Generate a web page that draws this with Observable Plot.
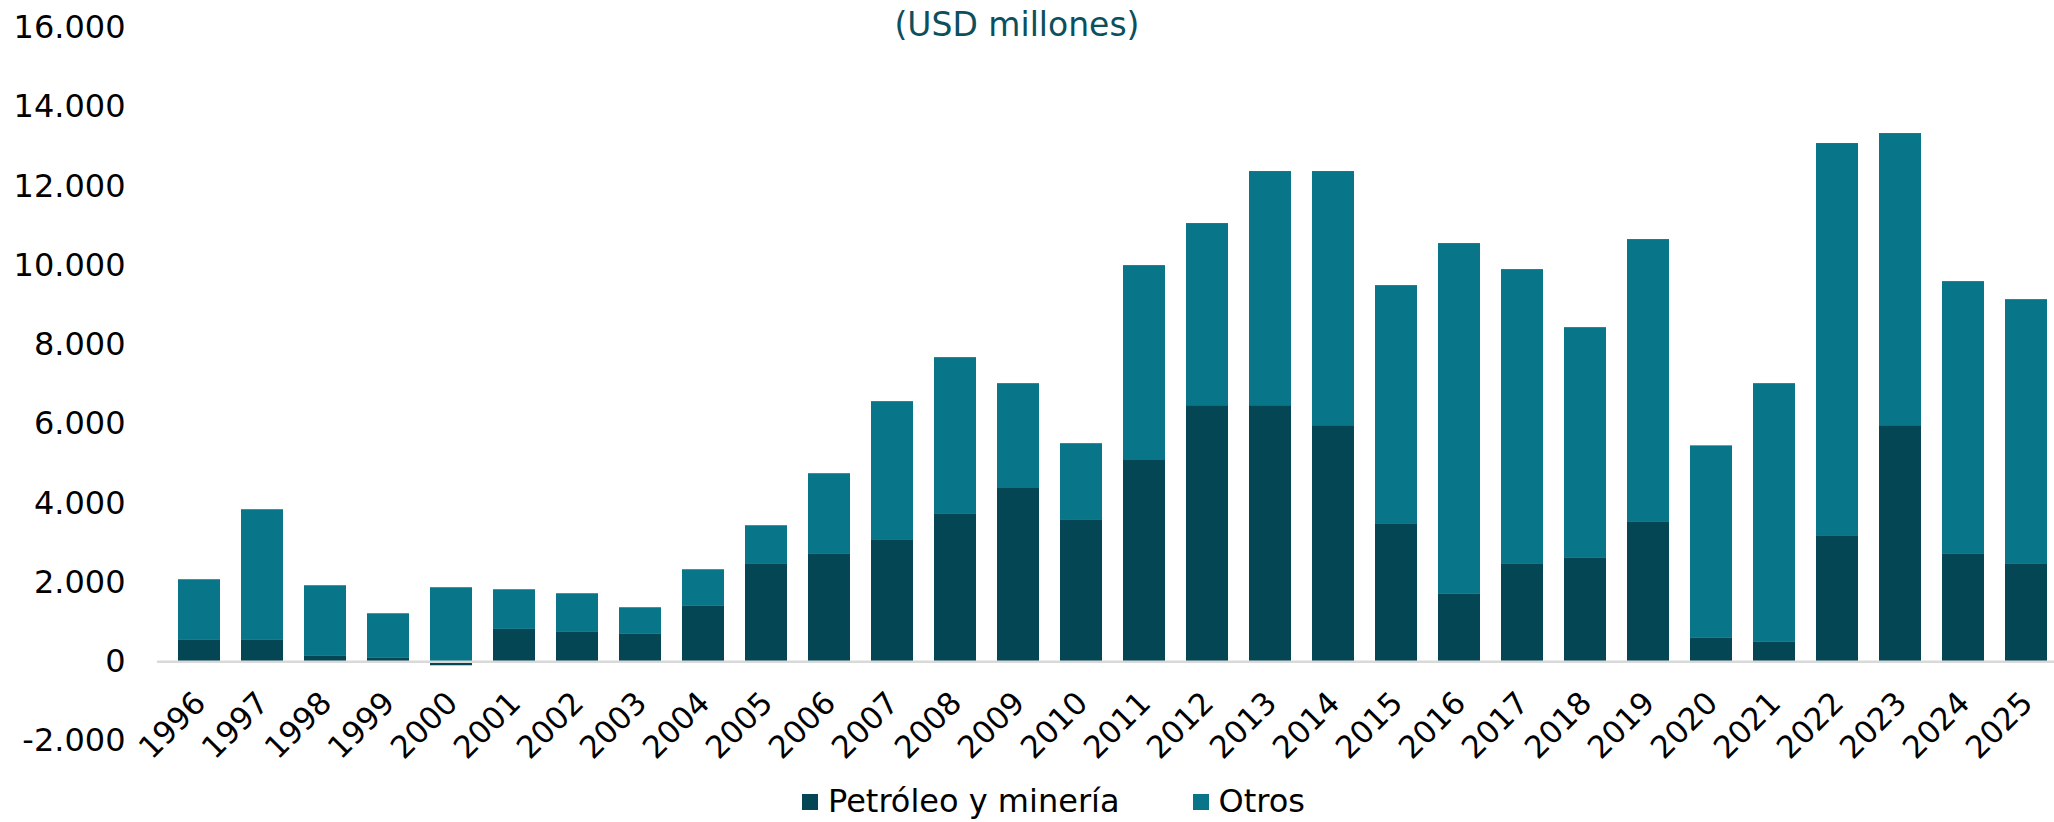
<!DOCTYPE html>
<html>
<head>
<meta charset="utf-8">
<script src="https://cdn.jsdelivr.net/npm/d3@7"></script>
<script src="https://cdn.jsdelivr.net/npm/@observablehq/plot@0.6"></script>
<style>
  html, body { margin: 0; padding: 0; background: #fff; overflow: hidden; }
  #wrap { position: relative; width: 2054px; height: 822px; overflow: hidden; background: #fff; font-family: "DejaVu Sans", Verdana, sans-serif; }
  #sub { position: absolute; top: 8px; left: 0; width: 2034px; text-align: center; font-size: 33px; line-height: 33px; color: #0c4f5d; }
  #chart { position: absolute; top: 0; left: 0; }
  #legend { position: absolute; top: 784px; left: 802px; height: 34px; line-height: 34px; display: flex; align-items: center; font-size: 32px; color: #000; white-space: nowrap; }
  .sw { width: 16px; height: 16px; margin-right: 10px; flex: none; margin-top: 2px; }
  .item { display: flex; align-items: center; height: 34px; }
</style>
</head>
<body>
<div id="wrap">
  <div id="chart"></div>
  <div id="sub">(USD millones)</div>
  <div id="legend"></div>
</div>
<script>
const years = [1996,1997,1998,1999,2000,2001,2002,2003,2004,2005,2006,2007,2008,2009,2010,2011,2012,2013,2014,2015,2016,2017,2018,2019,2020,2021,2022,2023,2024,2025];
const petroleo = [556,556,152,101,-101,816,758,707,1414,2475,2727,3081,3737,4394,3586,5101,6465,6465,5960,3485,1717,2475,2626,3535,606,505,3182,5960,2727,2475];
const otros = [1515,3282,1767,1111,1869,1002,959,657,909,959,2020,3485,3940,2626,1919,4899,4596,5909,6414,6010,8839,7424,5808,7122,4844,6515,9899,7373,6869,6666];
const seriesNames = ["Petróleo y minería", "Otros"];
const seriesColors = ["#044654", "#097589"];
const yTicks = [-2000,0,2000,4000,6000,8000,10000,12000,14000,16000];

const table = [];
years.forEach((yr, i) => {
  table.push({year: yr, series: seriesNames[0], value: petroleo[i]});
  table.push({year: yr, series: seriesNames[1], value: otros[i]});
});

const fmt = d3.formatLocale({decimal: ",", thousands: ".", grouping: [3], currency: ["", ""], minus: "-"}).format(",");

const chart = Plot.plot({
  width: 2054,
  height: 776,
  marginLeft: 157,
  marginRight: 0,
  marginTop: 27,
  marginBottom: 36,
  style: {fontFamily: "DejaVu Sans, Verdana, sans-serif", fontSize: "32px", color: "#000", background: "#fff", overflow: "visible"},
  x: {type: "band", domain: years, range: [145.8, 2079.4], paddingInner: 0.326, paddingOuter: 0.326, axis: null},
  y: {domain: [-2000, 16000], range: [740.5, 27.4], axis: null},
  color: {domain: seriesNames, range: seriesColors},
  marks: [
    Plot.barY(table, {x: "year", y: "value", fill: "series"}),
    Plot.ruleY([0], {stroke: "#d9d9d9", strokeWidth: 2.5}),
    Plot.axisY(yTicks, {tickSize: 0, tickPadding: 32, tickFormat: fmt, label: null, fill: "#000"}),
    Plot.text(years, {x: d => d, y: d => 0, text: d => String(d), rotate: -45, textAnchor: "end", dx: 1, dy: 36, fontSize: 31, fill: "#000"})
  ]
});
document.getElementById("chart").appendChild(chart);

const legend = document.getElementById("legend");
seriesNames.forEach((name, i) => {
  const item = document.createElement("div");
  item.className = "item";
  if (i > 0) item.style.marginLeft = "73px";
  const sw = document.createElement("div");
  sw.className = "sw";
  sw.style.background = seriesColors[i];
  const label = document.createElement("span");
  label.textContent = name;
  item.appendChild(sw);
  item.appendChild(label);
  legend.appendChild(item);
});
</script>
</body>
</html>
